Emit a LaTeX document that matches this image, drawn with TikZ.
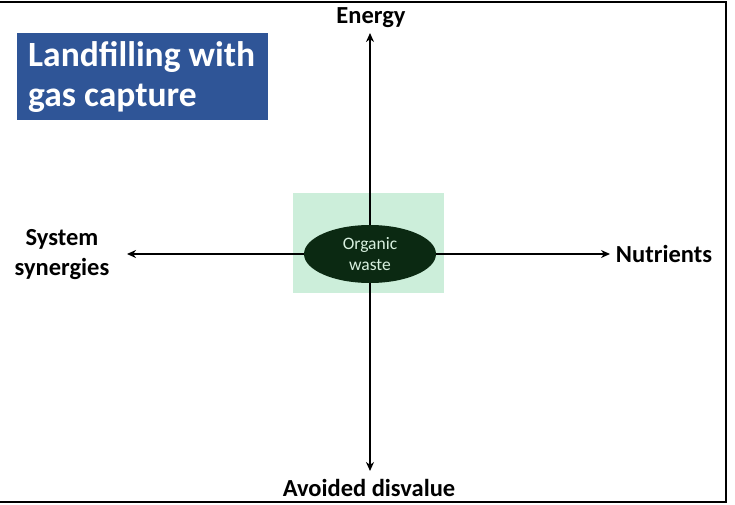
\documentclass[tikz,border=0pt]{standalone}
\usepackage{fontspec}
\setmainfont{Carlito}
\usetikzlibrary{arrows.meta,shapes.geometric}
\definecolor{titleblue}{HTML}{2F5597}
\definecolor{corebg}{HTML}{CCEEDA}
\definecolor{coredark}{HTML}{0B2912}
\definecolor{corefg}{HTML}{D8F0DF}
\tikzset{
  axislabel/.style={font=\bfseries\fontsize{24.5}{30}\selectfont, align=center, inner sep=0pt},
  axis/.style={line width=2.3pt, -{Stealth[length=9pt,width=8pt]}},
}
\begin{document}
\begin{tikzpicture}[x=1pt,y=-1pt]
\useasboundingbox (0,0) rectangle (735,505);
% frame
\draw[line width=1.5pt] (0,2) -- (726,2) -- (726,502) -- (0,502);
% title box
\node[fill=titleblue, minimum width=251pt, minimum height=87pt, anchor=north west] (title) at (17,33) {};
\node[text=white, anchor=west, font=\bfseries\fontsize{35.5}{40}\selectfont, align=left, inner sep=0pt]
  (titletext) at ([xshift=11pt]title.west) {Landfilling with\\gas capture};
% core area
\fill[corebg] (293,193) rectangle (444,293);
% axis labels
\node[axislabel] (energy) at (371,18) {Energy};
\node[axislabel] (avoided) at (369,488) {Avoided disvalue};
\node[axislabel] (synergy) at (62,255) {System\\synergies};
\node[axislabel] (nutrients) at (664,254) {Nutrients};
% central ellipse
\node[ellipse, fill=coredark, minimum width=132pt, minimum height=58pt, inner sep=0pt,
      text=corefg, font=\fontsize{17.5}{21}\selectfont, align=center] (waste) at (370,254) {Organic\\waste};
% arrow tips
\coordinate (tipN) at (370,33);
\coordinate (tipS) at (370,471);
\coordinate (tipW) at (127,254);
\coordinate (tipE) at (610,254);
\draw[axis] (waste.north) -- (tipN);
\draw[axis] (waste.south) -- (tipS);
\draw[axis] (waste.west) -- (tipW);
\draw[axis] (waste.east) -- (tipE);
\end{tikzpicture}
\end{document}
